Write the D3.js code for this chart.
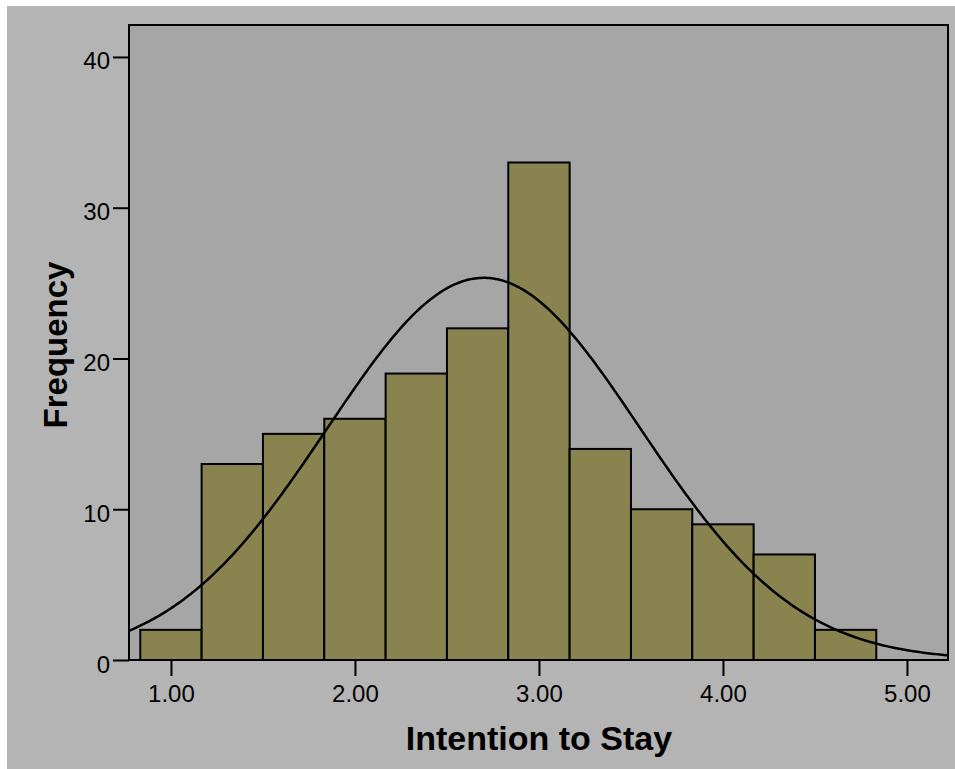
<!DOCTYPE html>
<html>
<head>
<meta charset="utf-8">
<script src="https://cdn.jsdelivr.net/npm/d3@7"></script>
<style>
  html, body { margin: 0; padding: 0; background: #ffffff; }
  svg { display: block; }
  text { font-family: "Liberation Sans", Arial, sans-serif; fill: #000; }
</style>
</head>
<body>
<svg id="chart" width="955" height="769"></svg>
<script>
// ---- data ----
const binEdges = [0.8333, 1.1667, 1.5, 1.8333, 2.1667, 2.5, 2.8333, 3.1667, 3.5, 3.8333, 4.1667, 4.5, 4.8333];
const counts   = [2, 13, 15, 16, 19, 22, 33, 14, 10, 9, 7, 2];
const xTicks   = [1, 2, 3, 4, 5];
const xTickLabels = ["1.00", "2.00", "3.00", "4.00", "5.00"];
const yTicks   = [0, 10, 20, 30, 40];
const curveMean = 2.70;
const curveSD   = 0.85;
const xLabel = "Intention to Stay";
const yLabel = "Frequency";

// ---- layout ----
const svg = d3.select("#chart");
const plot = { left: 129, top: 25, right: 948, bottom: 660 };

svg.append("rect").attr("x", 7).attr("y", 6).attr("width", 948).attr("height", 763).attr("fill", "#b4b4b4");
svg.append("rect").attr("x", plot.left).attr("y", plot.top)
  .attr("width", plot.right - plot.left).attr("height", plot.bottom - plot.top)
  .attr("fill", "#a6a6a6");

const x = d3.scaleLinear().domain([0.772, 5.223]).range([plot.left, plot.right]);
const y = d3.scaleLinear().domain([0, 42.12]).range([plot.bottom, plot.top]);

svg.append("clipPath").attr("id", "clip").append("rect")
  .attr("x", plot.left).attr("y", plot.top)
  .attr("width", plot.right - plot.left).attr("height", plot.bottom - plot.top);

// bars
svg.append("g").selectAll("rect").data(counts).join("rect")
  .attr("x", (d, i) => x(binEdges[i]))
  .attr("y", d => y(d))
  .attr("width", (d, i) => x(binEdges[i + 1]) - x(binEdges[i]))
  .attr("height", d => y(0) - y(d))
  .attr("fill", "#88834f")
  .attr("stroke", "#000")
  .attr("stroke-width", 2);

// normal curve
const n = d3.sum(counts);
const bw = binEdges[1] - binEdges[0];
const xs = d3.range(0, 401).map(i => 0.772 + (5.223 - 0.772) * i / 400);
const curve = xs.map(v => [v, n * bw / (curveSD * Math.sqrt(2 * Math.PI)) * Math.exp(-0.5 * ((v - curveMean) / curveSD) ** 2)]);
svg.append("path").datum(curve)
  .attr("clip-path", "url(#clip)")
  .attr("fill", "none").attr("stroke", "#000").attr("stroke-width", 2.5)
  .attr("d", d3.line().x(d => x(d[0])).y(d => y(d[1])));

// frame
svg.append("rect").attr("x", plot.left).attr("y", plot.top)
  .attr("width", plot.right - plot.left).attr("height", plot.bottom - plot.top)
  .attr("fill", "none").attr("stroke", "#000").attr("stroke-width", 2);

// y axis
const yAxis = d3.axisLeft(y).tickValues(yTicks).tickSize(16).tickPadding(4).tickFormat(d3.format("d"));
const gy = svg.append("g").attr("transform", `translate(${plot.left},0)`).call(yAxis);
gy.select(".domain").remove();
gy.selectAll(".tick line").attr("stroke", "#000").attr("stroke-width", 2);
gy.selectAll(".tick text").attr("font-size", 24).attr("font-family", "Liberation Sans, Arial, sans-serif")
  .attr("fill", "#000").attr("dy", "0.5em").attr("x", -19);

// x axis
const xAxis = d3.axisBottom(x).tickValues(xTicks).tickSize(16).tickPadding(6)
  .tickFormat((d, i) => xTickLabels[i]);
const gx = svg.append("g").attr("transform", `translate(0,${plot.bottom})`).call(xAxis);
gx.select(".domain").remove();
gx.selectAll(".tick line").attr("stroke", "#000").attr("stroke-width", 2);
gx.selectAll(".tick text").attr("font-size", 24).attr("font-family", "Liberation Sans, Arial, sans-serif")
  .attr("fill", "#000").attr("dy", null).attr("y", 42);

// axis titles
svg.append("text").attr("x", 539).attr("y", 750).attr("text-anchor", "middle")
  .attr("font-size", 34).attr("font-weight", "bold").text(xLabel);
svg.append("text").attr("transform", "translate(67,345) rotate(-90)").attr("text-anchor", "middle")
  .attr("font-size", 33).attr("font-weight", "bold").text(yLabel);
</script>
</body>
</html>
